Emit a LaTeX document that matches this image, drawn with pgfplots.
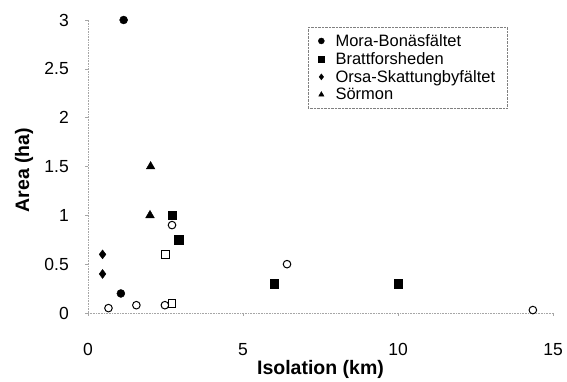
\documentclass[border=0pt]{standalone}
\usepackage{fontspec}
\setmainfont{Liberation Sans}
\usepackage{pgfplots}
\pgfplotsset{compat=1.18}
\begin{document}
\begin{tikzpicture}
\begin{axis}[
  scale only axis, width=465pt, height=293pt,
  xmin=0, xmax=15, ymin=0, ymax=3,
  axis lines*=left,
  axis line style={gray!70, densely dotted, line width=0.6pt},
  xtick={0,5,10,15}, ytick={0,0.5,1,1.5,2,2.5,3},
  tick align=outside, major tick length=3pt,
  tick style={gray!70, line width=0.5pt},
  /pgf/number format/assume math mode=true,
  tick label style={font=\fontsize{17.5}{19}\selectfont},
  yticklabel style={anchor=east, inner sep=0pt, xshift=-16pt},
  xticklabel style={anchor=base, inner sep=0pt, yshift=-40pt},
  xlabel={\textbf{Isolation (km)}}, ylabel={\textbf{Area (ha)}},
  label style={font=\fontsize{19.5}{21}\selectfont},
  xlabel style={at={(axis description cs:0.5,-0.191)}, anchor=center},
  ylabel style={at={(axis description cs:-0.1376,0.488)}, anchor=center},
  legend style={at={(0.473,0.976)}, anchor=north west, draw=gray, densely dotted,
    font=\fontsize{16.5}{18}\selectfont, row sep=0.5pt, inner xsep=10pt, inner ysep=5pt},
  legend image code/.code={\draw[#1, mark size=3pt] plot coordinates {(3pt,0pt)}; \path (0pt,0pt) (15pt,0pt);},
  legend cell align=left,
]
\addplot[only marks, mark=*, mark size=4pt, black] coordinates {(1.15,3.0) (1.06,0.2)};
\addlegendentry{Mora-Bonäsfältet}
\addplot[only marks, mark=square*, mark size=4.3pt, black] coordinates {(2.71,1.0) (2.92,0.75) (6.0,0.3) (10.0,0.3)};
\addlegendentry{Brattforsheden}
\addplot[only marks, mark=diamond*, mark size=4.5pt, black] coordinates {(0.47,0.6) (0.47,0.4)};
\addlegendentry{Orsa-Skattungbyfältet}
\addplot[only marks, mark=triangle*, mark size=5pt, black] coordinates {(2.02,1.5) (2.0,1.0)};
\addlegendentry{Sörmon}
\addplot[only marks, mark=o, mark size=3.8pt, black, line width=1pt, forget plot] coordinates {(0.66,0.05) (1.56,0.08) (2.48,0.08) (2.71,0.9) (6.42,0.5) (14.35,0.03)};
\addplot[only marks, mark=square, mark size=3.8pt, black, line width=1pt, forget plot] coordinates {(2.5,0.6) (2.71,0.1)};
\end{axis}
\path (current axis.south west) ++(-88pt,-69pt) rectangle ++(567pt,382pt);
\end{tikzpicture}
\end{document}
